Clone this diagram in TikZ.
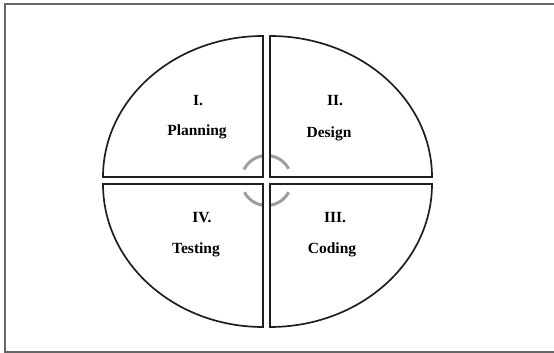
\documentclass[tikz,border=0pt]{standalone}
\usepackage{fontspec}
\setmainfont{Liberation Serif}
\usepackage{tikz}
\usetikzlibrary{positioning}

\begin{document}
\begin{tikzpicture}[
    x=1pt, y=1pt,
    frame/.style={draw=black!60, line width=1.4pt},
    quad/.style={draw=black!88, line width=1.7pt, line join=miter},
    ring/.style={draw=black!38, line width=3pt},
    phase/.style={font=\fontsize{15.5}{18}\selectfont\bfseries, inner sep=0pt}
]
    \useasboundingbox (0,0) rectangle (554,353);
    \draw[frame] (556,349) -- (5,349) -- (5,1) -- (556,1);

    % --- CENTRE RING ---
    \coordinate (Hub) at (266.5,172.5);
    \draw[ring] (Hub) ++(154:25pt) arc[start angle=154, end angle=98, radius=25pt];
    \draw[ring] (Hub) ++(82:25pt) arc[start angle=82, end angle=28, radius=25pt];
    \draw[ring] (Hub) ++(-152:25pt) arc[start angle=-152, end angle=-98, radius=25pt];
    \draw[ring] (Hub) ++(-82:25pt) arc[start angle=-82, end angle=-28, radius=25pt];

    % --- QUADRANTS ---
    \coordinate (CornerI) at (263,176);
    \coordinate (CornerII) at (270,176);
    \coordinate (CornerIII) at (270,169);
    \coordinate (CornerIV) at (263,169);
    \draw[quad] (CornerI) -- ++(0,141) arc[start angle=90, end angle=180, x radius=160pt, y radius=141pt] -- cycle;
    \draw[quad] (CornerII) -- ++(0,141) arc[start angle=90, end angle=0, x radius=162pt, y radius=141pt] -- cycle;
    \draw[quad] (CornerIII) -- ++(0,-143) arc[start angle=-90, end angle=0, x radius=162pt, y radius=143pt] -- cycle;
    \draw[quad] (CornerIV) -- ++(0,-143) arc[start angle=-90, end angle=-180, x radius=160pt, y radius=143pt] -- cycle;

    % --- PHASES ---
    \node[phase] (NumI) at (198,252) {I.};
    \node[phase] (Planning) at (197,221) {Planning};
    \node[phase] (NumII) at (335,252) {II.};
    \node[phase] (Design) at (329,219) {Design};
    \node[phase] (NumIII) at (335,135) {III.};
    \node[phase] (Coding) at (332,103) {Coding};
    \node[phase] (NumIV) at (202,135) {IV.};
    \node[phase] (Testing) at (196,103) {Testing};

\end{tikzpicture}
\end{document}
